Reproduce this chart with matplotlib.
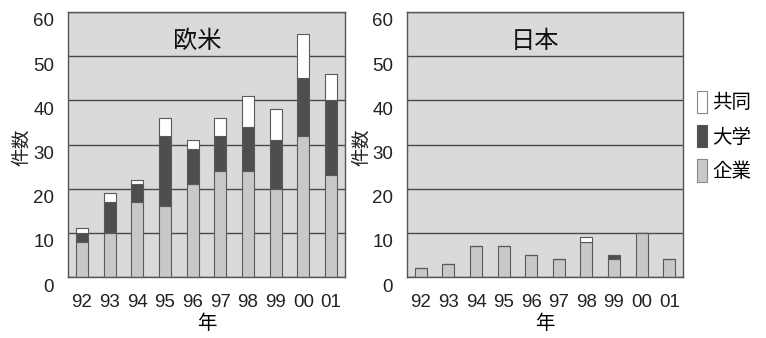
import matplotlib
matplotlib.use("Agg")
import matplotlib.pyplot as plt
import matplotlib.transforms as mtransforms
from matplotlib.patches import Patch
import numpy as np

plt.rcParams['font.family'] = ['Liberation Sans', 'Noto Sans CJK JP',
                               'DejaVu Sans']

years = ["92", "93", "94", "95", "96", "97", "98", "99", "00", "01"]

# 欧米
west_company = [8, 10, 17, 16, 21, 24, 24, 20, 32, 23]
west_univ = [2, 7, 4, 16, 8, 8, 10, 11, 13, 17]
west_joint = [1, 2, 1, 4, 2, 4, 7, 7, 10, 6]

# 日本
japan_company = [2, 3, 7, 7, 5, 4, 8, 4, 10, 4]
japan_univ = [0, 0, 0, 0, 0, 0, 0, 1, 0, 0]
japan_joint = [0, 0, 0, 0, 0, 0, 1, 0, 0, 0]

series_labels = ["企業", "大学", "共同"]
panel_titles = ["欧米", "日本"]

bg = "#dadada"
c_company = "#c8c8c8"
c_univ = "#4e4e4e"
c_joint = "#ffffff"
edge = "#5a5a5a"
cjk = ['Noto Sans CJK JP', 'DejaVu Sans']

W, H = 766, 338
fig = plt.figure(figsize=(W / 100, H / 100), dpi=100)
fig.patch.set_facecolor("white")

ax_l = fig.add_axes([68 / W, 1 - 277 / H, 277 / W, 265 / H])
ax_r = fig.add_axes([407 / W, 1 - 277 / H, 276 / W, 265 / H])

panels = [
    (ax_l, west_company, west_univ, west_joint, panel_titles[0], 22),
    (ax_r, japan_company, japan_univ, japan_joint, panel_titles[1], 362),
]

x = np.arange(len(years))
w = 0.43
for ax, comp, univ, joint, title, ylab_x in panels:
    ax.set_facecolor(bg)
    comp = np.array(comp)
    univ = np.array(univ)
    joint = np.array(joint)
    ax.set_axisbelow(True)
    ax.yaxis.grid(True, color="#4a4a4a", linewidth=1.0)
    ax.bar(x, comp, width=w, color=c_company, edgecolor=edge, linewidth=0.8)
    ax.bar(x, univ, width=w, bottom=comp, color=c_univ, edgecolor=edge,
           linewidth=0.8)
    ax.bar(x, joint, width=w, bottom=comp + univ, color=c_joint,
           edgecolor=edge, linewidth=0.8)
    ax.set_xlim(-0.5, 9.5)
    ax.set_ylim(0, 60)
    ax.set_yticks(range(0, 61, 10))
    ax.set_xticks(x)
    ax.set_xticklabels(years)
    ax.tick_params(length=0, labelsize=13.5, colors="#222222")
    ax.tick_params(axis='y', pad=10)
    ax.tick_params(axis='x', pad=12)
    off = mtransforms.ScaledTranslation(0, -8 / 100, fig.dpi_scale_trans)
    for lab in ax.get_yticklabels():
        lab.set_transform(lab.get_transform() + off)
    for s in ax.spines.values():
        s.set_color("#555555")
        s.set_linewidth(1.0)
    ax.text(0.465, 0.89, title, transform=ax.transAxes, ha="center",
            va="center", fontsize=17.5, family=cjk, color="#111111")
    ax.set_xlabel("年", family=cjk, fontsize=14, labelpad=2)
    fig.text(ylab_x / W, 1 - 147 / H, "件数", rotation=90, ha="center",
             va="center", family=cjk, fontsize=13.5, color="#222222")

handles = [
    Patch(facecolor=c_joint, edgecolor="#888888", linewidth=0.8),
    Patch(facecolor=c_univ, edgecolor="#555555", linewidth=0.8),
    Patch(facecolor=c_company, edgecolor="#888888", linewidth=0.8),
]
leg = fig.legend(handles, [series_labels[2], series_labels[1], series_labels[0]],
                 loc="upper left", bbox_to_anchor=(679 / W, 1 - 73 / H),
                 frameon=False, handlelength=0.55, handleheight=1.4,
                 handletextpad=0.25, labelspacing=0.6,
                 prop={'family': cjk, 'size': 14})

fig.savefig("out.png", dpi=100)
